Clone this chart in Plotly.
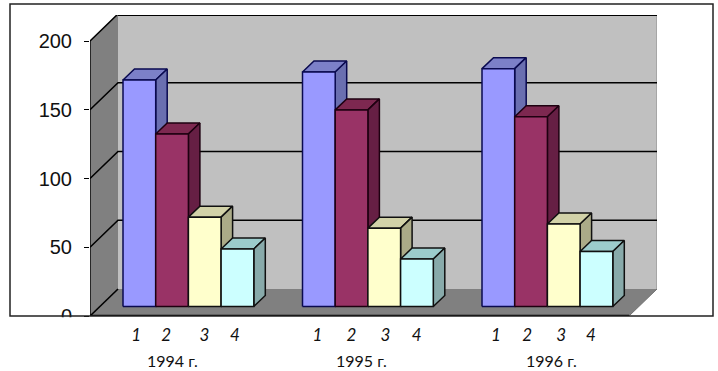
import plotly.graph_objects as go

# ---- data ----
years = ["1994 г.", "1995 г.", "1996 г."]
series_labels = ["1", "2", "3", "4"]
s1 = [164.7, 170.5, 173]
s2 = [125.5, 143, 138]
s3 = [65, 57, 60]
s4 = [41.8, 34.5, 40]
y_ticks = [0, 50, 100, 150, 200]

# ---- styling / projection constants ----
W, H = 718, 371
L, R, T, B = 90, 657, 15, 316
PX_X = 32.7         # pixels per bar width
PX_Y = 1.375        # pixels per value unit
X0 = 123            # pixel of first bar
GROUP_STEP = 179.5 / PX_X
WALL_DX = 28 / PX_X
WALL_DY = 27 / PX_Y
BAR_DX = 11.5 / PX_X
BAR_DY = 11 / PX_Y
BAR_BASE = 9.5 / PX_Y
xmin = (L - X0) / PX_X
xmax = (R - X0) / PX_X
ymax = (B - T) / PX_Y
xfront_r = xmax - WALL_DX
ytop = 200
YEAR_OFFSET = 49.5 / PX_X
YEAR_STEP = 189.25 / PX_X

faces = [
    ("#9999FF", "#6A6FB0", "#7C80C8", "#0A0A50"),
    ("#993366", "#661F44", "#7D2850", "#1E0010"),
    ("#FFFFCC", "#ABAB88", "#D2D2A8", "#101010"),
    ("#CCFFFF", "#88AAAA", "#9CCCCC", "#101010"),
]
series = [s1, s2, s3, s4]
# hand-placed label offsets of the original, per group, in bar widths
label_offsets = [
    [0.40, 1.32, 2.49, 3.42],
    [0.46, 1.50, 2.54, 3.49],
    [0.43, 1.38, 2.42, 3.33],
]

fig = go.Figure()


def poly(xs, ys, fill, line=None, width=1.5):
    fig.add_trace(go.Scatter(
        x=xs + xs[:1], y=ys + ys[:1], mode="lines", fill="toself", fillcolor=fill,
        line=dict(color=line or fill, width=width if line else 0),
        hoverinfo="skip", showlegend=False))


def seg(xs, ys, color="#000000", width=1.6):
    fig.add_trace(go.Scatter(x=xs, y=ys, mode="lines", line=dict(color=color, width=width),
                             hoverinfo="skip", showlegend=False))


# walls and floor
poly([xmin + WALL_DX, xmax, xmax, xmin + WALL_DX], [WALL_DY, WALL_DY, ymax, ymax], "#C0C0C0")
poly([xmin, xmin + WALL_DX, xmin + WALL_DX, xmin], [0, WALL_DY, ymax, ytop], "#808080")
poly([xmin, xfront_r, xmax, xmin + WALL_DX], [0, 0, WALL_DY, WALL_DY], "#808080")
seg([xmax, xmax], [WALL_DY, ymax], "#8C8C8C", 1)
seg([xfront_r, xmax], [0, WALL_DY], "#707070", 1)

# gridlines
for v in y_ticks:
    if v == 0:
        continue
    seg([xmin, xmin + WALL_DX, xmax], [v, v + WALL_DY, v + WALL_DY])
seg([xmin, xmin + WALL_DX], [0, WALL_DY])
seg([xmin, xmin], [0, ytop], "#000000", 1.4)
seg([xmin, xfront_r], [0, 0], "#000000", 2.4)
seg([xmin + WALL_DX, xmax], [ymax, ymax], "#000000", 2)

# bars
for g in range(len(years)):
    for k, vals in enumerate(series):
        front, side, top, edge = faces[k]
        x0 = g * GROUP_STEP + k
        x1 = x0 + 1
        y0 = BAR_BASE
        y1 = vals[g] + BAR_BASE
        poly([x0, x0 + BAR_DX, x1 + BAR_DX, x1], [y1, y1 + BAR_DY, y1 + BAR_DY, y1], top, edge)
        poly([x1, x1 + BAR_DX, x1 + BAR_DX, x1], [y0, y0 + BAR_DY, y1 + BAR_DY, y1], side, edge)
        poly([x0, x1, x1, x0], [y0, y0, y1, y1], front, edge)

tickvals = [g * GROUP_STEP + o for g in range(len(years)) for o in label_offsets[g]]
ticktext = [s for _ in years for s in series_labels]

fig.update_layout(
    width=W, height=H, autosize=False,
    margin=dict(l=L, r=W - R, t=T, b=H - B, autoexpand=False),
    paper_bgcolor="white", plot_bgcolor="white", showlegend=False,
    xaxis=dict(range=[xmin, xmax], tickmode="array", tickvals=tickvals, ticktext=ticktext,
               showgrid=False, zeroline=False, showline=False, ticks="", ticklabelstandoff=7,
               tickfont=dict(family="Lato", size=17, color="#111111", style="italic")),
    yaxis=dict(range=[0, ymax], tickmode="array", tickvals=y_ticks, ticktext=[str(v) for v in y_ticks],
               showgrid=False, zeroline=False, showline=False, ticks="outside", ticklen=5, tickwidth=1.4,
               tickcolor="#000000", ticklabelstandoff=8,
               tickfont=dict(family="Liberation Sans", size=20, color="#111111")),
    shapes=[
        dict(type="rect", xref="paper", yref="paper", x0=-80 / (R - L), x1=56 / (R - L) + 1,
             y0=0, y1=1 + 11 / (B - T), line=dict(color="#222222", width=1.5), layer="above"),
        dict(type="rect", xref="paper", yref="paper", x0=-80 / (R - L), x1=-1 / (R - L),
             y0=-10 / (B - T), y1=-1.2 / (B - T), line=dict(width=0), fillcolor="white", layer="above"),
    ],
    annotations=[
        dict(text=y, x=YEAR_OFFSET + g * YEAR_STEP, xref="x", y=-44 / (B - T), yref="paper", showarrow=False,
             yanchor="middle", xanchor="center",
             font=dict(family="Lato", size=16, color="#111111"))
        for g, y in enumerate(years)
    ],
)

fig.write_html("out.html", config=dict(displayModeBar=False),
               post_script="document.body.style.margin='0';document.body.style.overflow='hidden';")
